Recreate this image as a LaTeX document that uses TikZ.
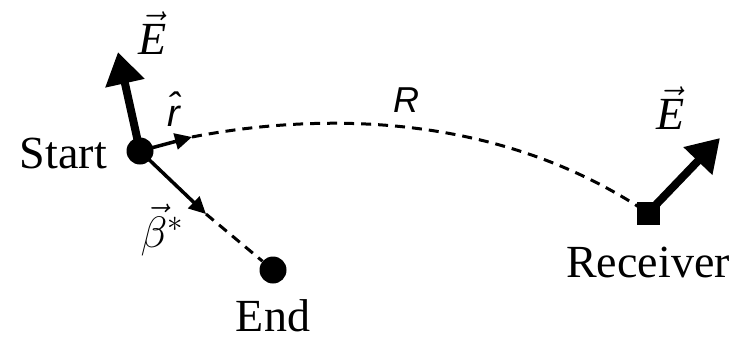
\RequirePackage{fix-cm}
\documentclass[tikz,border=0pt]{standalone}
\usepackage{fontspec}
\setmainfont{Liberation Serif}
\setsansfont{Liberation Sans}
\usetikzlibrary{arrows.meta}
\begin{document}
\begin{tikzpicture}[x=1pt,y=-1pt,
  dot/.style={circle,fill=black,inner sep=0pt,minimum size=27pt},
  sq/.style={rectangle,fill=black,inner sep=0pt,minimum size=23pt},
  lbl/.style={font=\fontsize{46}{52}\selectfont,inner sep=0pt},
  bigarrow/.style={line width=8pt,-{Triangle[length=32pt,width=38pt]}},
  smallarrow/.style={line width=3.5pt,-{Triangle[length=17pt,width=16pt]}},
  dashline/.style={line width=3pt,dash pattern=on 10pt off 7pt}]
\useasboundingbox (0,0) rectangle (744,340);
\node[dot] (start) at (140,151) {};
\node[dot] (end) at (273,270) {};
\node[sq] (rec) at (648,213) {};
\coordinate (etip) at (118,52);
\coordinate (rtip) at (192,137);
\coordinate (btip) at (206,214);
\coordinate (retip) at (720,138);
% dashed connectors
\draw[dashline] (rtip) .. controls (295,117) and (485,103) .. (rec.center);
\draw[dashline] (btip) -- (end);
% arrows
\draw[bigarrow] (start.center) -- (etip);
\draw[smallarrow] (start.center) -- (rtip);
\draw[smallarrow] (start.center) -- (btip);
\draw[bigarrow] (rec.center) -- (retip);
\node[sq] at (rec.center) {};
% labels
\node[lbl,anchor=east] (tstart) at (107,153) {Start};
\node[lbl] (tend) at (273,316) {End};
\node[lbl] (trec) at (648,262) {Receiver};
\node[lbl] (le1) at (153,33) {$\vec{\textit{E}}$};
\node[lbl] (le2) at (671,108) {$\vec{\textit{E}}$};
\node[inner sep=0pt,font=\fontsize{36}{40}\selectfont\sffamily\itshape] (lr) at (406,100) {R};
\node[inner sep=0pt,font=\fontsize{38}{44}\selectfont\sffamily\itshape] (lrhat) at (174,109) {\^{r}};
\node[inner sep=0pt,font=\fontsize{44}{50}\selectfont] (lb) at (162,230) {$\vec{\beta}^{*}$};
\end{tikzpicture}
\end{document}
